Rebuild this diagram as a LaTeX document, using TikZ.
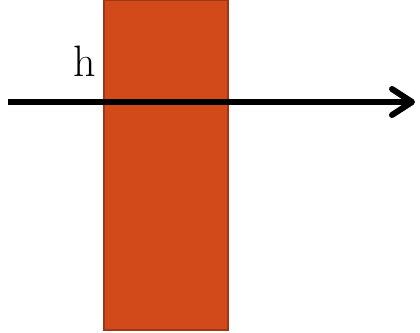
\documentclass[tikz,border=0pt]{standalone}
\usepackage{tikz}
\usetikzlibrary{arrows.meta}
\definecolor{slab}{RGB}{211,74,26}
\definecolor{slabedge}{RGB}{160,54,24}

\begin{document}
\begin{tikzpicture}[x=1pt, y=-1pt, every node/.style={font=\fontsize{44}{44}\selectfont}]
  \useasboundingbox (0,0) rectangle (420,332);
  \fill[slab] (104,0) rectangle (228,330);
  \draw[slabedge, line width=2pt] (104,0) rectangle (228,330);
  \coordinate (beamstart) at (8,102);
  \coordinate (beamend) at (415,102);
  \draw[line width=6pt, -{Straight Barb[length=20pt, width=26pt, line width=6pt, line cap=round, line join=round]}] (beamstart) -- (beamend);
  \node[anchor=base, inner sep=0pt] (hlabel) at (85,76) {h};
\end{tikzpicture}
\end{document}
